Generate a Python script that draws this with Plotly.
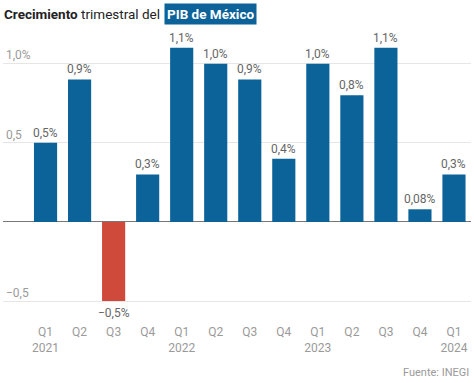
import plotly.graph_objects as go

quarters = ["Q1", "Q2", "Q3", "Q4", "Q1", "Q2", "Q3", "Q4", "Q1", "Q2", "Q3", "Q4", "Q1"]
years = ["2021", "", "", "", "2022", "", "", "", "2023", "", "", "", "2024"]
growth = [0.5, 0.9, -0.5, 0.3, 1.1, 1.0, 0.9, 0.4, 1.0, 0.8, 1.1, 0.08, 0.3]
value_labels = ["0,5%", "0,9%", "−0,5%", "0,3%", "1,1%", "1,0%", "0,9%", "0,4%",
                "1,0%", "0,8%", "1,1%", "0,08%", "0,3%"]
ytick_vals = [-0.5, 0.5, 1.0]
ytick_text = ["−0,5", "0,5", "1,0%"]

BLUE = "#0b6399"
RED = "#cf4a3a"
GRAY = "#9a9a9a"
FONT = "Roboto"

x = list(range(len(growth)))
colors = [RED if v < 0 else BLUE for v in growth]
ticktext = [q + ("<br>" + y if y else "") for q, y in zip(quarters, years)]

fig = go.Figure()
fig.add_trace(go.Bar(
    x=x, y=growth, width=0.68, marker=dict(color=colors, line=dict(width=0)),
    hoverinfo="skip",
))

for xi, v, lab in zip(x, growth, value_labels):
    fig.add_annotation(
        x=xi, y=v, xref="x", yref="y", text=lab, showarrow=False,
        yanchor="top" if v < 0 else "bottom", yshift=-3 if v < 0 else 1,
        font=dict(family=FONT, size=12, color="#666666"),
    )

fig.update_layout(
    width=474, height=383,
    margin=dict(l=3, r=3, t=32, b=74),
    paper_bgcolor="white", plot_bgcolor="white",
    showlegend=False,
    xaxis=dict(
        range=[-1.25, 12.5], tickmode="array", tickvals=x, ticktext=ticktext,
        showgrid=False, zeroline=False, showline=False, ticks="",
        ticklabelstandoff=14,
        tickfont=dict(family=FONT, size=12, color=GRAY),
    ),
    yaxis=dict(
        range=[-0.55, 1.2], tickmode="array", tickvals=ytick_vals, ticktext=ytick_text,
        ticklabelposition="inside top",
        showgrid=True, gridcolor="#e6e6e6", gridwidth=1,
        zeroline=True, zerolinecolor="#777777", zerolinewidth=1,
        showline=False, ticks="",
        tickfont=dict(family=FONT, size=12, color=GRAY),
    ),
)

fig.add_annotation(
    text="<b>Crecimiento</b> trimestral del", xref="paper", yref="paper",
    x=-0.002, y=1.0, yshift=18, xanchor="left", yanchor="middle", showarrow=False,
    font=dict(family=FONT, size=13.5, color="#222222"),
)
fig.add_annotation(
    text="<b>PIB de México</b>", xref="paper", yref="paper",
    x=0.343, y=1.0, yshift=18, xanchor="left", yanchor="middle", showarrow=False,
    font=dict(family=FONT, size=13.5, color="white"), bgcolor=BLUE, borderpad=2,
)
fig.add_annotation(
    text="Fuente: INEGI", xref="paper", yref="paper",
    x=1.0, y=0, yshift=-63, xanchor="right", yanchor="middle", showarrow=False,
    font=dict(family=FONT, size=11, color=GRAY),
)

fig.write_html(
    "out.html",
    config={"displayModeBar": False},
    post_script="document.body.style.margin='0';document.body.style.overflow='hidden';",
)
